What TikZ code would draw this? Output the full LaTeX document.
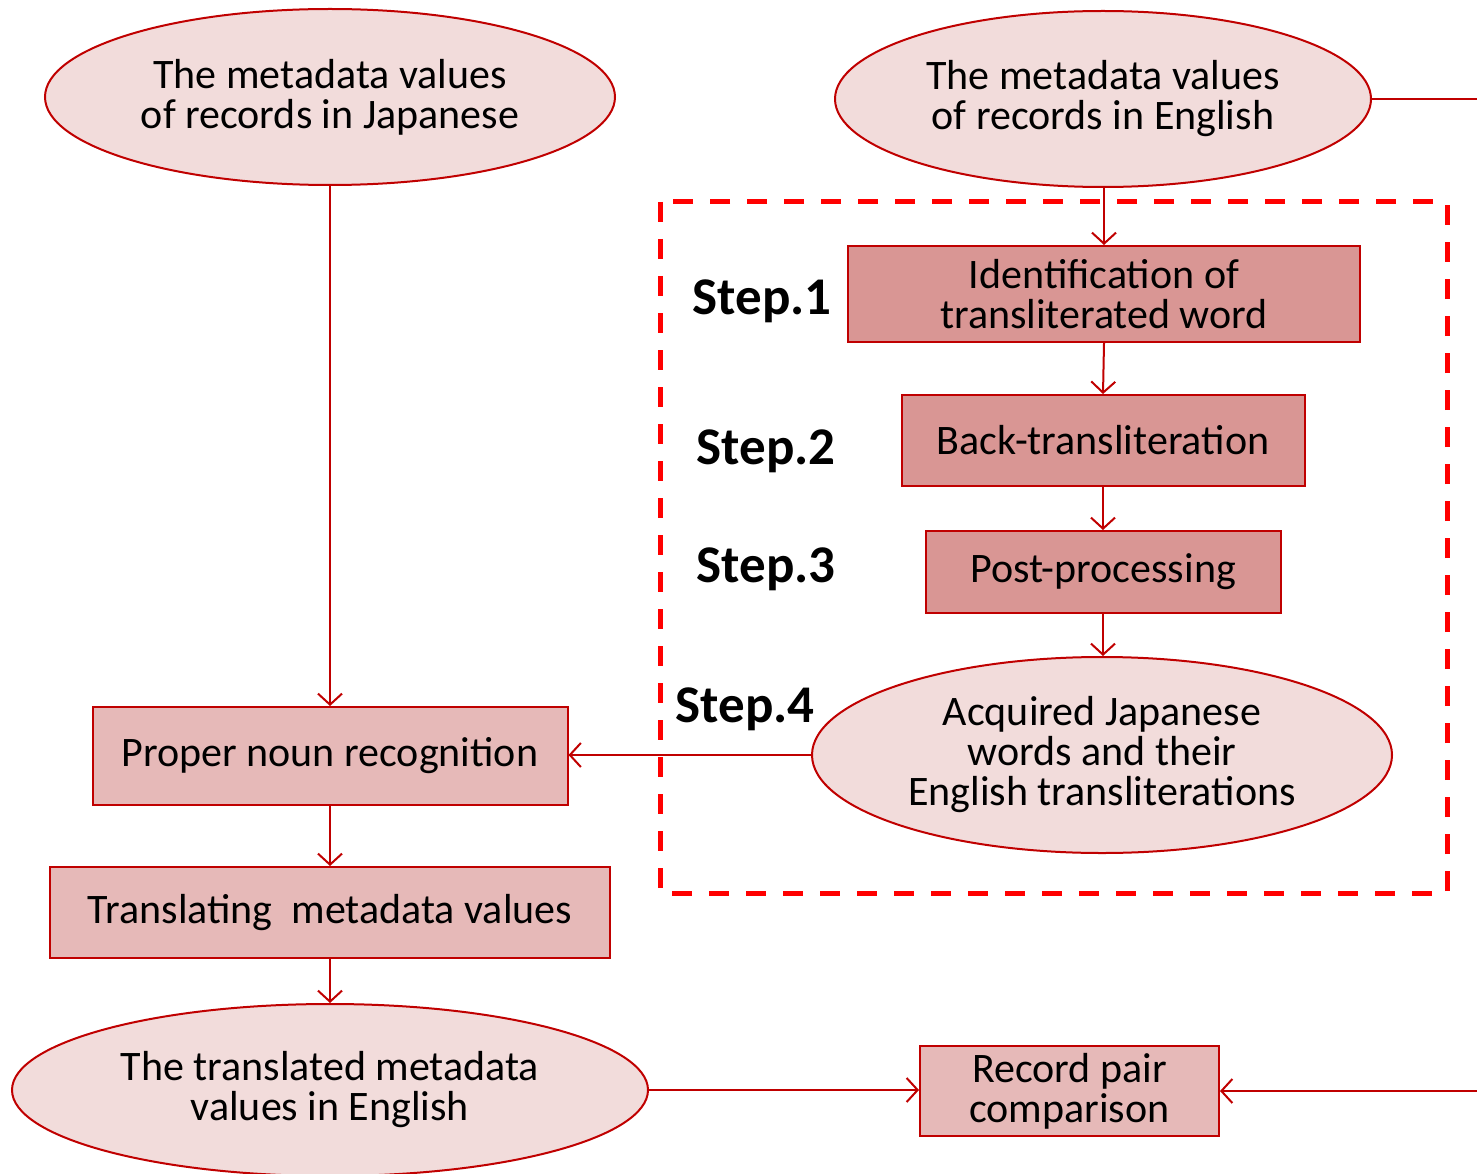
\documentclass[tikz,border=0pt]{standalone}
\usepackage{fontspec}
\setmainfont{Carlito}
\usetikzlibrary{shapes.geometric,arrows.meta}
\definecolor{edge}{HTML}{C00000}
\definecolor{ovalfill}{HTML}{F2DCDB}
\definecolor{stepfill}{HTML}{D99694}
\definecolor{boxfill}{HTML}{E6B9B8}
\definecolor{frame}{HTML}{FF0000}
\begin{document}
\begin{tikzpicture}[x=1pt,y=-1pt,
  txt/.style={font=\fontsize{42}{40}\selectfont, align=center, text=black},
  oval/.style={ellipse, draw=edge, line width=2pt, fill=ovalfill, inner sep=0pt, txt},
  stepbox/.style={rectangle, draw=edge, line width=2pt, fill=stepfill, inner sep=0pt, txt},
  procbox/.style={rectangle, draw=edge, line width=2pt, fill=boxfill, inner sep=0pt, txt},
  steplabel/.style={font=\fontsize{53}{58}\selectfont\bfseries, text=black},
  link/.style={draw=edge, line width=2pt, -{Straight Barb[length=11pt,width=24pt,line width=2pt]}},
  plain/.style={draw=edge, line width=2pt}]
\useasboundingbox (0,0) rectangle (1477,1174);

% dashed frame around the four steps
\draw[frame, line width=5pt, dash pattern=on 20pt off 17pt] (660,202) rectangle (1447,893);

% source ovals
\node[oval, minimum width=570pt, minimum height=176pt] (jp) at (330,97)
  {The metadata values\\of records in Japanese};
\node[oval, minimum width=536pt, minimum height=176pt] (en) at (1103,99)
  {The metadata values\\of records in English};

% transliteration steps
\node[stepbox, minimum width=512pt, minimum height=96pt] (s1) at (1104,294)
  {Identification of\\transliterated word};
\node[stepbox, minimum width=403pt, minimum height=91pt] (s2) at (1103,440.5)
  {Back-transliteration};
\node[stepbox, minimum width=355pt, minimum height=82pt] (s3) at (1103,572)
  {Post-processing};
\node[oval, minimum width=580pt, minimum height=196pt] (acq) at (1102,755)
  {Acquired Japanese\\words and their\\English transliterations};

\node[steplabel] (l1) at (762,301) {Step.1};
\node[steplabel] (l2) at (766,451) {Step.2};
\node[steplabel] (l3) at (766,569) {Step.3};
\node[steplabel] (l4) at (745,709) {Step.4};

% translation pipeline
\node[procbox, minimum width=475pt, minimum height=98pt] (pn) at (330,756)
  {Proper noun recognition};
\node[procbox, minimum width=560pt, minimum height=91pt] (tr) at (330,912.5)
  {Translating\ \ metadata values};
\node[oval, minimum width=636pt, minimum height=172pt] (out) at (330,1090)
  {The translated metadata\\values in English};
\node[procbox, minimum width=299pt, minimum height=90pt] (rp) at (1069.5,1091)
  {Record pair\\comparison};

% loop-around line on the right edge
\coordinate (rt) at (1477,99);
\coordinate (rb) at (1477,1091);

% connectors
\draw[link] (jp.south) -- (pn.north);
\draw[link] (s1.north |- en.south) -- (s1.north);
\draw[link] (s1.south) -- (s2.north);
\draw[link] (s2.south) -- (s3.north);
\draw[link] (s3.south) -- (s3.south |- acq.north);
\draw[link] (acq.west) -- (acq.west -| pn.east);
\draw[link] (pn.south) -- (tr.north);
\draw[link] (tr.south) -- (out.north);
\draw[link] (out.east) -- (out.east -| rp.west);
\draw[plain] (en.east) -- (rt);
\draw[link] (rb) -- (rp.east);
\end{tikzpicture}
\end{document}
